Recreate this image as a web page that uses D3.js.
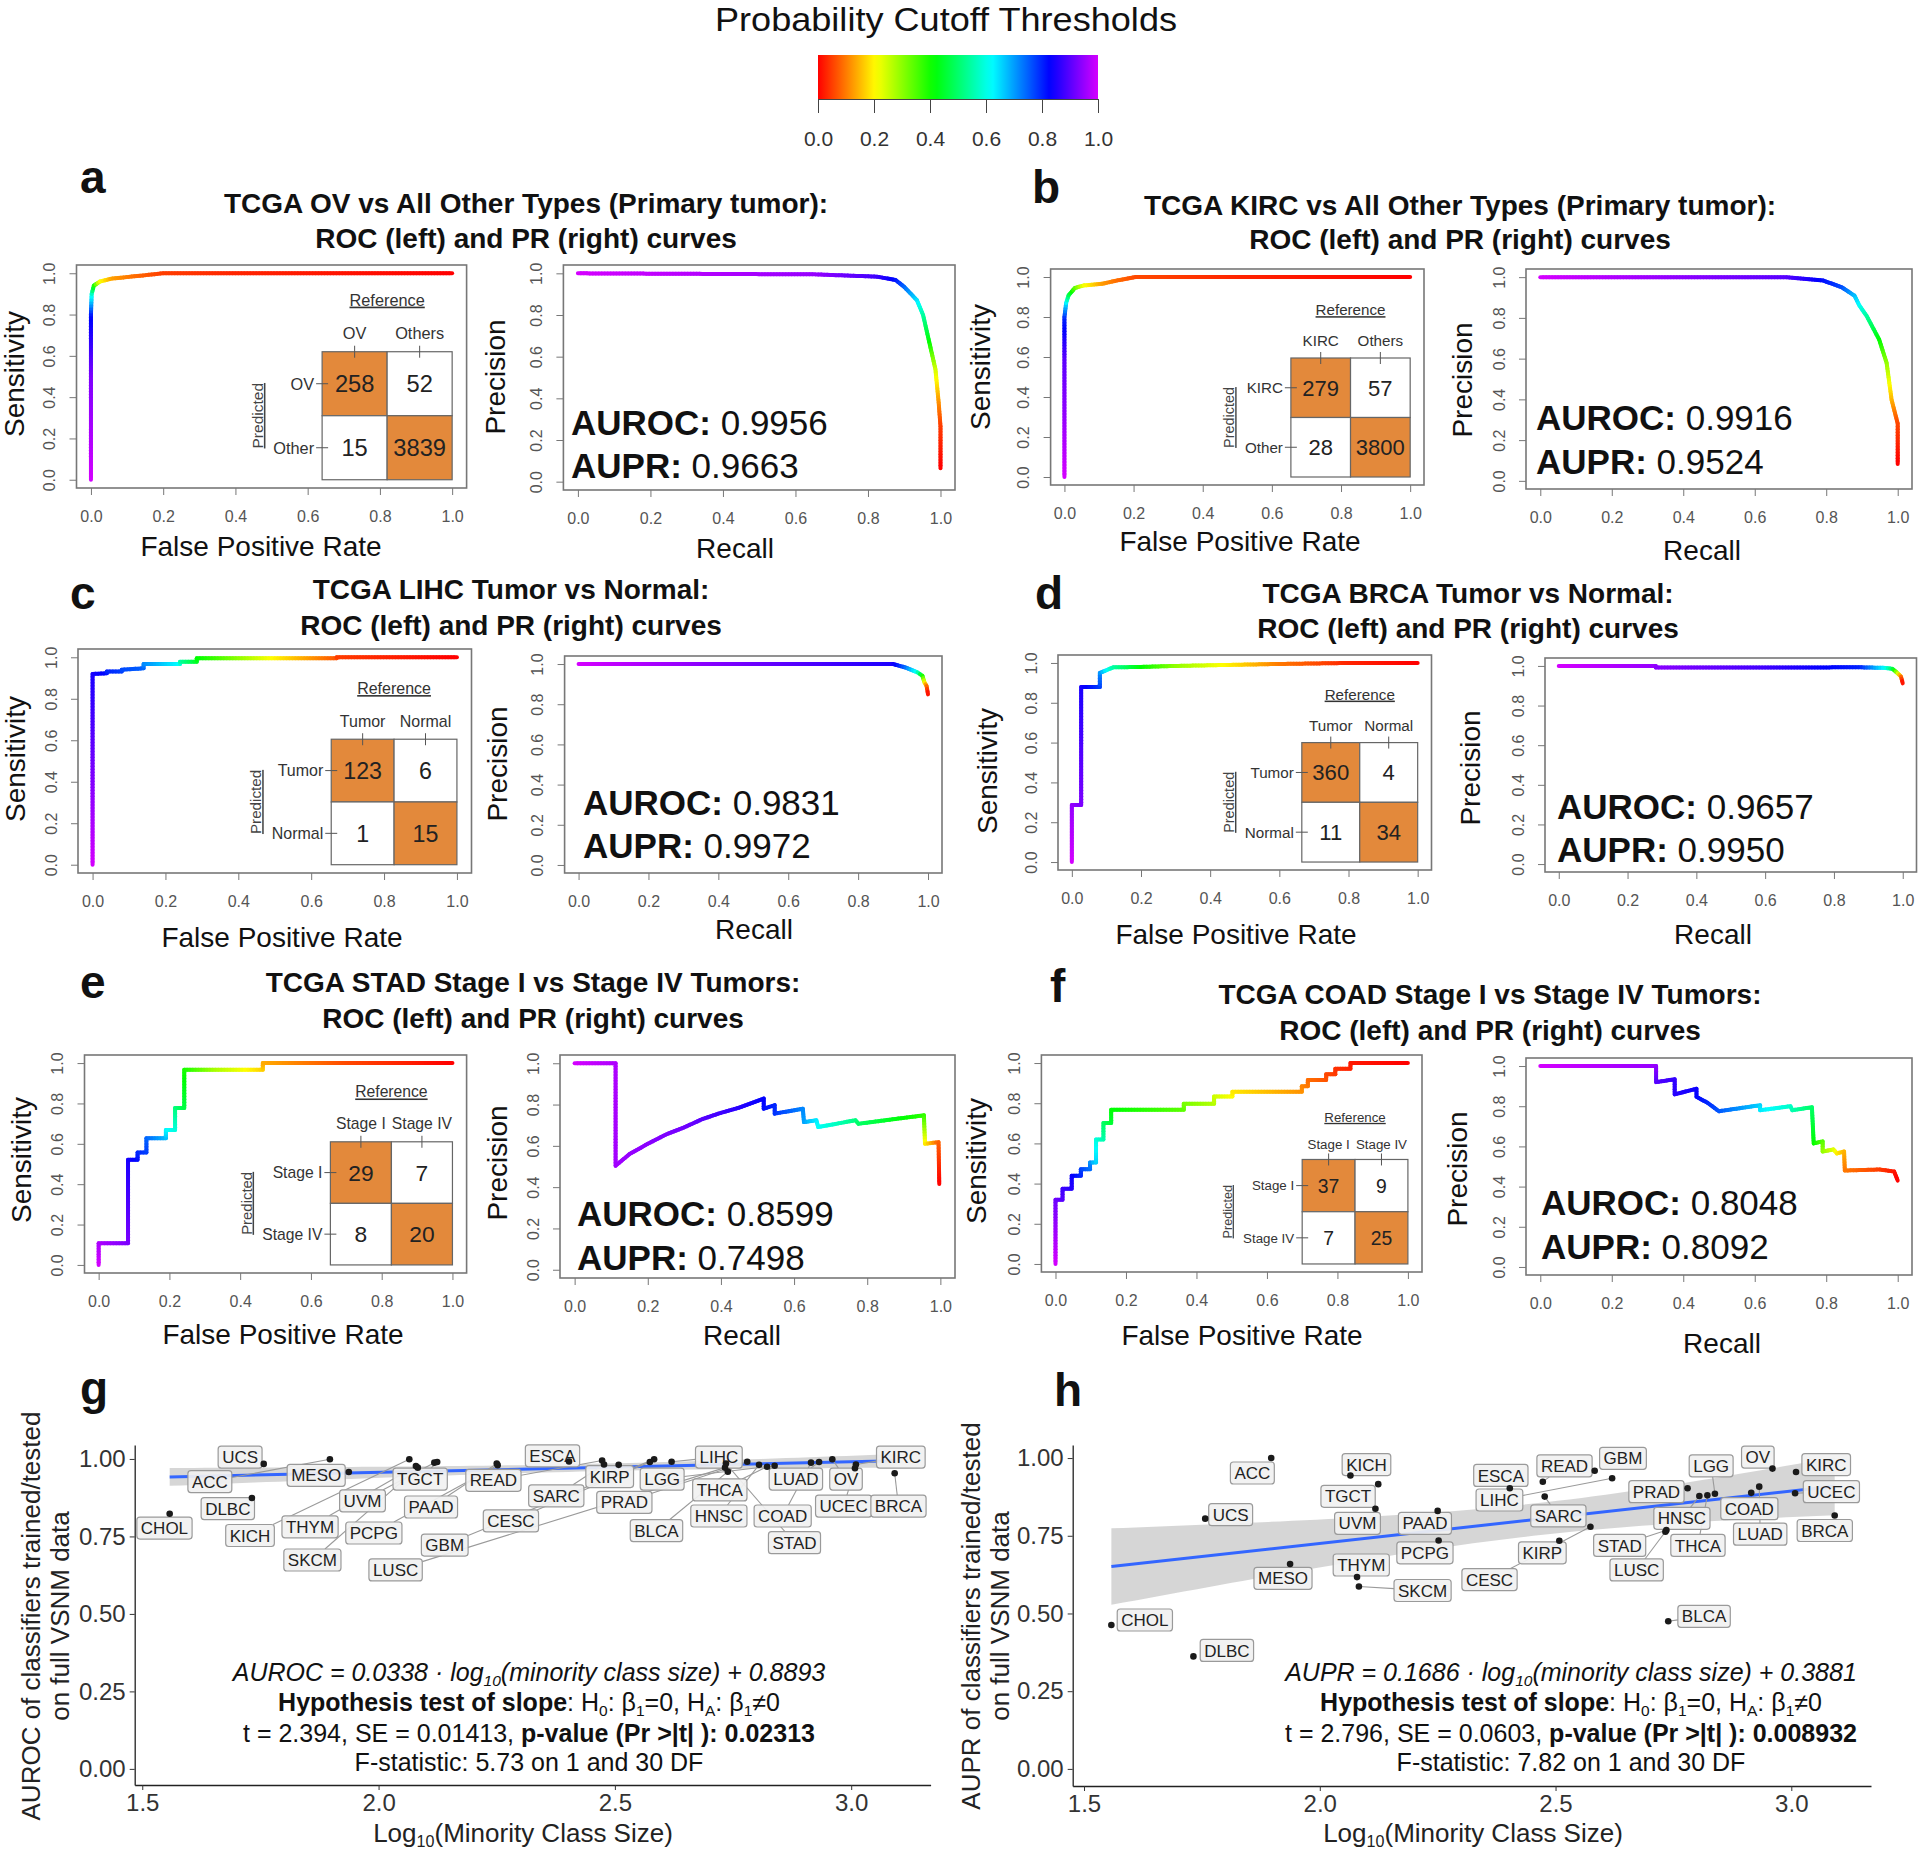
<!DOCTYPE html>
<html><head><meta charset="utf-8">
<script src="https://cdn.jsdelivr.net/npm/d3@7/dist/d3.min.js"></script>
<style>body{margin:0;background:#fff}svg{display:block}</style>
</head><body>
<svg id="c" width="1920" height="1852"></svg>
<script>
// ================= DATA =================
const colorbarTicks = [0, 0.2, 0.4, 0.6, 0.8, 1.0];
const unitTicks = [0, 0.2, 0.4, 0.6, 0.8, 1.0];

const panelLetters = ["a","b","c","d","e","f","g","h"];
const titleLine1 = [
  "TCGA OV vs All Other Types (Primary tumor):",
  "TCGA KIRC vs All Other Types (Primary tumor):",
  "TCGA LIHC Tumor vs Normal:",
  "TCGA BRCA Tumor vs Normal:",
  "TCGA STAD Stage I vs Stage IV Tumors:",
  "TCGA COAD Stage I vs Stage IV Tumors:"
];
const titleLine2 = "ROC (left) and PR (right) curves";
const aurocVals = ["0.9956","0.9916","0.9831","0.9657","0.8599","0.8048"];
const auprVals  = ["0.9663","0.9524","0.9972","0.9950","0.7498","0.8092"];

// confusion matrices
const cmCols = [["OV","Others"],["KIRC","Others"],["Tumor","Normal"],["Tumor","Normal"],["Stage I","Stage IV"],["Stage I","Stage IV"]];
const cmRows = [["OV","Other"],["KIRC","Other"],["Tumor","Normal"],["Tumor","Normal"],["Stage I","Stage IV"],["Stage I","Stage IV"]];
const cmCounts = [[[258,52],[15,3839]],[[279,57],[28,3800]],[[123,6],[1,15]],[[360,4],[11,34]],[[29,7],[8,20]],[[37,9],[7,25]]];

// curves: [x, y, probability threshold]
const rocA = [[0,0,1],[0,0.5,0.93],[0,0.8,0.82],[0.002,0.9,0.6],[0.008,0.94,0.42],[0.025,0.96,0.22],[0.06,0.975,0.13],[0.12,0.985,0.09],[0.2,1.0,0.05],[0.4,1.0,0.03],[1,1,0]];
const prA  = [[0,1,1],[0.655,0.995,0.95],[0.825,0.984,0.88],[0.876,0.968,0.82],[0.90,0.935,0.75],[0.935,0.871,0.65],[0.952,0.80,0.55],[0.969,0.67,0.42],[0.986,0.54,0.25],[0.995,0.379,0.12],[1.0,0.266,0.05],[1.0,0.064,0.0]];
const rocB = [[0,0,1],[0,0.6,0.9],[0,0.8,0.8],[0.005,0.87,0.65],[0.012,0.908,0.5],[0.03,0.945,0.35],[0.056,0.958,0.22],[0.109,0.966,0.13],[0.153,0.983,0.09],[0.206,1.0,0.06],[0.5,1.0,0.03],[1,1,0]];
const prB  = [[0,1,1],[0.689,1.0,0.9],[0.792,0.983,0.82],[0.844,0.95,0.77],[0.879,0.909,0.68],[0.893,0.86,0.62],[0.913,0.81,0.55],[0.948,0.694,0.42],[0.969,0.579,0.3],[0.983,0.397,0.15],[1.0,0.281,0.06],[1.0,0.083,0]];
const rocC = [[0,0,1],[0,0.92,0.85],[0.039,0.923,0.82],[0.039,0.932,0.8],[0.08,0.932,0.78],[0.08,0.94,0.77],[0.14,0.947,0.75],[0.14,0.968,0.72],[0.24,0.968,0.62],[0.24,0.979,0.55],[0.286,0.979,0.45],[0.286,0.995,0.42],[0.5,0.995,0.2],[0.67,0.995,0.07],[0.67,1.0,0.05],[1,1,0]];
const prC  = [[0,1,1],[0.9,1,0.85],[0.935,0.983,0.75],[0.97,0.958,0.6],[0.984,0.941,0.42],[0.99,0.908,0.22],[0.996,0.89,0.1],[1,0.849,0]];
const rocD = [[0,0,1],[0,0.286,0.95],[0.027,0.286,0.93],[0.027,0.879,0.85],[0.081,0.879,0.78],[0.081,0.95,0.72],[0.103,0.966,0.62],[0.12,0.978,0.55],[0.2,0.98,0.42],[0.3,0.985,0.3],[0.45,0.99,0.2],[0.6,0.995,0.1],[0.8,1.0,0.03],[1,1,0]];
const prD  = [[0,1,1],[0.282,1,0.95],[0.282,0.992,0.94],[0.6,0.992,0.88],[0.88,0.993,0.8],[0.95,0.99,0.62],[0.97,0.985,0.5],[0.98,0.971,0.35],[0.99,0.955,0.2],[0.995,0.946,0.1],[1,0.912,0]];
const rocE = [[0,0,1],[0,0.107,0.97],[0.083,0.107,0.93],[0.083,0.521,0.85],[0.11,0.521,0.82],[0.11,0.557,0.8],[0.135,0.557,0.78],[0.135,0.628,0.75],[0.19,0.628,0.68],[0.19,0.669,0.63],[0.216,0.669,0.6],[0.216,0.777,0.52],[0.242,0.777,0.47],[0.242,0.967,0.4],[0.33,0.967,0.28],[0.464,0.967,0.17],[0.464,1.0,0.14],[0.7,1.0,0.06],[1,1,0]];
const prE  = [[0,1,1],[0.112,1,0.97],[0.112,0.504,0.96],[0.15,0.56,0.95],[0.2,0.61,0.94],[0.25,0.655,0.93],[0.3,0.69,0.92],[0.35,0.73,0.9],[0.4,0.76,0.88],[0.45,0.785,0.86],[0.517,0.829,0.83],[0.517,0.78,0.82],[0.547,0.797,0.8],[0.547,0.756,0.79],[0.624,0.78,0.72],[0.627,0.715,0.7],[0.661,0.724,0.64],[0.666,0.691,0.62],[0.768,0.724,0.52],[0.776,0.707,0.5],[0.955,0.748,0.38],[0.958,0.61,0.2],[0.995,0.618,0.08],[0.997,0.415,0]];
const rocF = [[0,0,1],[0,0.32,0.92],[0.02,0.32,0.9],[0.02,0.374,0.88],[0.046,0.374,0.86],[0.046,0.439,0.84],[0.072,0.439,0.8],[0.072,0.472,0.78],[0.098,0.472,0.74],[0.098,0.505,0.72],[0.115,0.505,0.66],[0.115,0.62,0.6],[0.136,0.62,0.56],[0.136,0.702,0.5],[0.158,0.702,0.46],[0.158,0.767,0.42],[0.364,0.767,0.34],[0.364,0.797,0.32],[0.45,0.797,0.27],[0.45,0.833,0.25],[0.502,0.833,0.21],[0.502,0.857,0.19],[0.699,0.857,0.12],[0.699,0.885,0.11],[0.716,0.885,0.1],[0.716,0.915,0.09],[0.768,0.915,0.07],[0.768,0.944,0.06],[0.794,0.944,0.05],[0.794,0.972,0.04],[0.837,0.972,0.03],[0.837,1.0,0.02],[1,1,0]];
const prF  = [[0,1,1],[0.324,1,0.95],[0.324,0.92,0.9],[0.376,0.934,0.87],[0.376,0.859,0.86],[0.437,0.887,0.84],[0.437,0.847,0.83],[0.468,0.817,0.8],[0.5,0.775,0.76],[0.615,0.805,0.66],[0.615,0.78,0.64],[0.7,0.8,0.58],[0.705,0.78,0.56],[0.76,0.795,0.5],[0.765,0.615,0.42],[0.79,0.625,0.35],[0.79,0.575,0.3],[0.82,0.585,0.24],[0.83,0.565,0.2],[0.85,0.575,0.15],[0.852,0.48,0.1],[0.95,0.485,0.05],[0.99,0.475,0.02],[1.0,0.43,0]];
const rocCurves = [rocA, rocB, rocC, rocD, rocE, rocF];
const prCurves  = [prA, prB, prC, prD, prE, prF];

// scatter panels g/h
const cancerTypes = ["CHOL","DLBC","UCS","ACC","MESO","KICH","THYM","SKCM","UVM","TGCT","PAAD","PCPG","ESCA","READ","SARC","KIRP","CESC","GBM","LIHC","BLCA","LUSC","STAD","PRAD","HNSC","THCA","LGG","COAD","LUAD","OV","UCEC","KIRC","BRCA"];
const log10Size = [1.558,1.732,1.757,1.897,1.937,2.065,2.079,2.083,2.118,2.124,2.250,2.252,2.403,2.473,2.477,2.508,2.574,2.583,2.620,2.739,2.733,2.735,2.780,2.805,2.822,2.838,2.915,2.932,2.960,3.008,3.010,3.092];
const aurocByType = [0.823,0.874,0.984,0.999,0.958,0.999,0.977,0.972,0.988,0.990,0.985,0.980,0.992,0.995,0.982,0.981,0.990,0.999,0.991,0.959,0.972,0.985,0.991,0.981,0.975,0.978,0.988,0.990,0.999,0.970,0.982,0.954];
const auprByType  = [0.463,0.362,0.805,1.000,0.659,0.944,0.617,0.587,0.837,0.916,0.830,0.735,0.903,0.924,0.876,0.734,0.779,0.959,0.935,0.475,0.763,0.768,0.903,0.878,0.880,0.885,0.888,0.908,0.966,0.887,0.955,0.815];
// repelled label anchors (data units)
const labelXG = [1.547,1.681,1.707,1.643,1.868,1.728,1.855,1.860,1.966,2.088,2.111,1.990,2.368,2.243,2.376,2.489,2.280,2.140,2.720,2.588,2.036,2.880,2.520,2.720,2.722,2.600,2.855,2.883,2.989,2.984,3.105,3.100];
const labelYG = [0.777,0.840,1.006,0.927,0.947,0.753,0.781,0.674,0.865,0.935,0.845,0.761,1.010,0.931,0.881,0.943,0.800,0.722,1.006,0.769,0.642,0.730,0.860,0.816,0.900,0.935,0.816,0.935,0.935,0.848,1.006,0.848];
const labelXH = [1.629,1.803,1.811,1.857,1.922,2.099,2.088,2.218,2.080,2.060,2.223,2.223,2.384,2.519,2.506,2.472,2.360,2.643,2.381,2.815,2.672,2.636,2.714,2.768,2.802,2.830,2.911,2.934,2.929,3.085,3.074,3.071];
const labelYH = [0.479,0.381,0.818,0.952,0.613,0.979,0.656,0.574,0.790,0.877,0.790,0.695,0.944,0.975,0.814,0.695,0.609,0.999,0.865,0.491,0.640,0.719,0.892,0.806,0.719,0.975,0.837,0.755,1.003,0.892,0.979,0.767];
const scatterXTicks = [1.5, 2.0, 2.5, 3.0];
const scatterYTicks = [0, 0.25, 0.5, 0.75, 1.0];
// regression results shown in the panels
const fitG = {slope:0.0338, intercept:0.8893, se:0.01413};
const fitH = {slope:0.1686, intercept:0.3881, se:0.0603};

// ================= DRAWING =================
const FONT = '"Liberation Sans", Arial, Helvetica, sans-serif';
const svg = d3.select('#c').attr('font-family', FONT);
const ORANGE = '#e3893b';
const col = t => d3.hsl(Math.max(0, Math.min(1, t)) * 290, 1, 0.5).toString();

// ---- colorbar ----
(function(){
  svg.append('text').attr('x', 946).attr('y', 31).attr('text-anchor','middle')
    .attr('font-size', 33).attr('fill','#111').attr('textLength', 462).attr('lengthAdjust','spacingAndGlyphs')
    .text('Probability Cutoff Thresholds');
  const defs = svg.append('defs');
  const gr = defs.append('linearGradient').attr('id','cbar');
  d3.range(0, 41).forEach(i => gr.append('stop').attr('offset', (i/40*100)+'%').attr('stop-color', col(i/40)));
  const cx = d3.scaleLinear().domain([0,1]).range([818,1098]);
  svg.append('rect').attr('x', cx(0)).attr('y', 55).attr('width', cx(1)-cx(0)).attr('height', 44).attr('fill','url(#cbar)');
  const ax = svg.append('g').attr('transform','translate(0,99)')
    .call(d3.axisBottom(cx).tickValues(colorbarTicks).tickFormat(d3.format('.1f')).tickSize(14).tickSizeOuter(0).tickPadding(18));
  ax.attr('font-family', FONT).attr('font-size', 21);
  ax.select('.domain').attr('stroke','#444');
  ax.selectAll('line').attr('stroke','#444');
  ax.selectAll('text').attr('fill','#333');
})();

function gradCurve(g, pts, x, y, w) {
  for (let i = 0; i < pts.length - 1; i++) {
    const [a0, b0, t0] = pts[i], [a1, b1, t1] = pts[i+1];
    const X0 = x(a0), Y0 = y(b0), X1 = x(a1), Y1 = y(b1);
    const L = Math.hypot(X1-X0, Y1-Y0);
    const n = Math.max(1, Math.ceil(L / 3));
    for (let k = 0; k < n; k++) {
      const p = k/n, q = (k+1)/n;
      g.append('line')
        .attr('x1', X0+(X1-X0)*p).attr('y1', Y0+(Y1-Y0)*p)
        .attr('x2', X0+(X1-X0)*q).attr('y2', Y0+(Y1-Y0)*q)
        .attr('stroke', col(t0+(t1-t0)*(p+q)/2)).attr('stroke-width', w).attr('stroke-linecap','round');
    }
  }
}

function rPlot(box, data, xlabel, ylabel, xlabPos, ylabPos) {
  const [x0, x1, y0, y1] = box;
  const x = d3.scaleLinear().domain([-0.04, 1.04]).range([x0, x1]);
  const y = d3.scaleLinear().domain([-0.04, 1.04]).range([y1, y0]);
  const g = svg.append('g');
  const ax = g.append('g').attr('transform', `translate(0,${y1})`)
    .call(d3.axisBottom(x).tickValues(unitTicks).tickFormat(d3.format('.1f')).tickSize(7).tickSizeOuter(0).tickPadding(16));
  ax.attr('font-family', FONT).attr('font-size', 16);
  ax.select('.domain').remove();
  ax.selectAll('line').attr('stroke','#777');
  ax.selectAll('text').attr('fill','#555');
  const ay = g.append('g').attr('transform', `translate(${x0},0)`)
    .call(d3.axisLeft(y).tickValues(unitTicks).tickFormat(d3.format('.1f')).tickSize(7).tickSizeOuter(0));
  ay.attr('font-family', FONT).attr('font-size', 16);
  ay.select('.domain').remove();
  ay.selectAll('line').attr('stroke','#777');
  ay.selectAll('text').attr('fill','#555').attr('x', 0).attr('y', 0).attr('dy','0.35em')
    .attr('text-anchor','middle').attr('transform','translate(-27,0) rotate(-90)');
  g.append('rect').attr('x', x0).attr('y', y0).attr('width', x1-x0).attr('height', y1-y0)
    .attr('fill','none').attr('stroke','#777').attr('stroke-width', 1.6);
  gradCurve(g, data, x, y, 4);
  g.append('text').attr('x', xlabPos[0]).attr('y', xlabPos[1]).attr('dy','0.36em').attr('text-anchor','middle')
    .attr('font-size', 28).attr('fill','#111').text(xlabel);
  g.append('text').attr('transform', `translate(${ylabPos[0]},${ylabPos[1]}) rotate(-90)`).attr('dy','0.36em')
    .attr('text-anchor','middle').attr('font-size', 28).attr('fill','#111').text(ylabel);
  return {x, y, g};
}

function confMatrix(p, ext, cols, rows, vals) {
  const {x, y, g} = p;
  const L = x(ext[0]), R = x(ext[1]), T = y(ext[3]), B = y(ext[2]);
  const cw = (R-L)/2, ch = (B-T)/2;
  const lf = ch * 0.255, nf = ch * 0.37;
  const m = g.append('g');
  for (let i = 0; i < 2; i++) for (let j = 0; j < 2; j++) {
    m.append('rect').attr('x', L + j*cw).attr('y', T + i*ch).attr('width', cw).attr('height', ch)
      .attr('fill', i === j ? ORANGE : '#fff').attr('stroke','#666').attr('stroke-width', 1.2);
    m.append('text').attr('x', L + (j+0.5)*cw).attr('y', T + (i+0.5)*ch).attr('dy','0.36em')
      .attr('text-anchor','middle').attr('font-size', nf).attr('fill','#222').text(vals[i][j]);
  }
  cols.forEach((c, j) => {
    const cx = L + (j+0.5)*cw;
    m.append('line').attr('x1', cx).attr('x2', cx).attr('y1', T-6).attr('y2', T+6).attr('stroke','#555');
    m.append('text').attr('x', cx).attr('y', T - ch*0.2).attr('text-anchor','middle').attr('font-size', lf).attr('fill','#333').text(c);
  });
  m.append('text').attr('x', L + cw).attr('y', T - ch*0.72).attr('text-anchor','middle').attr('font-size', lf)
    .attr('fill','#333').attr('text-decoration','underline').text('Reference');
  let maxw = 0;
  rows.forEach((r, i) => {
    const cy = T + (i+0.5)*ch;
    m.append('line').attr('x1', L-6).attr('x2', L+6).attr('y1', cy).attr('y2', cy).attr('stroke','#555');
    const t = m.append('text').attr('x', L - 8).attr('y', cy).attr('dy','0.36em').attr('text-anchor','end')
      .attr('font-size', lf).attr('fill','#333').text(r);
    maxw = Math.max(maxw, t.node().getComputedTextLength());
  });
  m.append('text').attr('transform', `translate(${L - 8 - maxw - 16},${T + ch}) rotate(-90)`).attr('dy','0.36em')
    .attr('text-anchor','middle').attr('font-size', lf*0.95).attr('fill','#444')
    .attr('text-decoration','underline').text('Predicted');
}

// layout of the six ROC/PR panels (pixel positions)
const layouts = [
  {letter:[80,193], title:[526,213,248], roc:[76.5,466.6,265,488], pr:[563.4,955,265,490],
   rocX:[261,546], rocY:[14,374], prX:[735,548], prY:[495,377], cm:[0.64,1,0,0.62], score:[571,435,478]},
  {letter:[1032,203], title:[1460,215,249], roc:[1050.6,1424,269,485], pr:[1526,1912,269,489],
   rocX:[1240,541], rocY:[980,367], prX:[1702,550], prY:[1462,380], cm:[0.655,1,0,0.595], score:[1536,430,474]},
  {letter:[70,609], title:[511,599,635], roc:[78,471.5,649,873], pr:[564.6,942,656,873],
   rocX:[282,937], rocY:[15,759], prX:[754,929], prY:[497,764], cm:[0.655,1,0,0.605], score:[583,815,858]},
  {letter:[1035,609], title:[1468,603,638], roc:[1058,1431.5,655,870], pr:[1545,1916.5,658,872],
   rocX:[1236,934], rocY:[987,771], prX:[1713,934], prY:[1470,768], cm:[0.665,1,0,0.6], score:[1557,819,862]},
  {letter:[80,998], title:[533,992,1028], roc:[84.5,466.6,1055,1273], pr:[560,955,1055,1278],
   rocX:[283,1334], rocY:[21,1160], prX:[742,1335], prY:[497,1163], cm:[0.655,1,0,0.61], score:[577,1226,1270]},
  {letter:[1050,1002], title:[1490,1004,1040], roc:[1041.4,1422,1055,1272], pr:[1526,1912,1058,1275],
   rocX:[1242,1335], rocY:[976,1161], prX:[1722,1343], prY:[1457,1169], cm:[0.70,1,0,0.52], score:[1541,1215,1259]}
];

layouts.forEach((lay, k) => {
  svg.append('text').attr('x', lay.letter[0]).attr('y', lay.letter[1]).attr('font-size', 46).attr('font-weight','bold')
    .attr('fill','#111').text(panelLetters[k]);
  svg.append('text').attr('x', lay.title[0]).attr('y', lay.title[1]).attr('text-anchor','middle')
    .attr('font-size', 28).attr('font-weight','bold').attr('fill','#111').text(titleLine1[k]);
  svg.append('text').attr('x', lay.title[0]).attr('y', lay.title[2]).attr('text-anchor','middle')
    .attr('font-size', 28).attr('font-weight','bold').attr('fill','#111').text(titleLine2);
  const roc = rPlot(lay.roc, rocCurves[k], 'False Positive Rate', 'Sensitivity', lay.rocX, lay.rocY);
  confMatrix(roc, lay.cm, cmCols[k], cmRows[k], cmCounts[k]);
  rPlot(lay.pr, prCurves[k], 'Recall', 'Precision', lay.prX, lay.prY);
  const s1 = svg.append('text').attr('x', lay.score[0]).attr('y', lay.score[1]).attr('font-size', 35).attr('fill','#111');
  s1.append('tspan').attr('font-weight','bold').text('AUROC:');
  s1.append('tspan').text(' ' + aurocVals[k]);
  const s2 = svg.append('text').attr('x', lay.score[0]).attr('y', lay.score[2]).attr('font-size', 35).attr('fill','#111');
  s2.append('tspan').attr('font-weight','bold').text('AUPR:');
  s2.append('tspan').text(' ' + auprVals[k]);
});

// ---- rich text helper ----
function richText(g, x, y, parts, fs, anchor) {
  const t = g.append('text').attr('x', x).attr('y', y).attr('text-anchor', anchor || 'middle')
    .attr('font-size', fs).attr('fill', '#111');
  let shift = 0;
  parts.forEach(p => {
    const target = p.sub ? fs * 0.2 : 0;
    const s = t.append('tspan').attr('dy', target - shift).text(p.t);
    shift = target;
    if (p.sub) s.attr('font-size', fs * 0.62);
    if (p.b) s.attr('font-weight', 'bold');
    if (p.i) s.attr('font-style', 'italic');
  });
  return t;
}

function scatterPanel(cfg) {
  const x = d3.scaleLinear().domain(cfg.xd).range([cfg.left, cfg.right]);
  const y = d3.scaleLinear().domain(cfg.yd).range([cfg.bottom, cfg.top]);
  const g = svg.append('g');
  const yv = cfg.yvals;
  // regression band from the reported fit
  const n = log10Size.length, xbar = d3.mean(log10Size);
  const sxx = d3.sum(log10Size, v => (v - xbar) ** 2);
  const s = cfg.fit.se * Math.sqrt(sxx), tcrit = 2.042;
  const xmin = d3.min(log10Size), xmax = d3.max(log10Size);
  const xs = d3.range(0, 61).map(i => xmin + (xmax - xmin) * i / 60);
  const fitv = v => cfg.fit.intercept + cfg.fit.slope * v;
  const sef = v => s * Math.sqrt(1/n + (v - xbar) ** 2 / sxx);
  g.append('path').datum(xs)
    .attr('d', d3.area().x(v => x(v)).y0(v => y(fitv(v) - tcrit*sef(v))).y1(v => y(fitv(v) + tcrit*sef(v))))
    .attr('fill', '#999').attr('fill-opacity', 0.4);
  g.append('line').attr('x1', x(xmin)).attr('x2', x(xmax)).attr('y1', y(fitv(xmin))).attr('y2', y(fitv(xmax)))
    .attr('stroke', '#3366FF').attr('stroke-width', 3);
  // axes
  const ax = g.append('g').attr('transform', `translate(0,${cfg.bottom})`)
    .call(d3.axisBottom(x).tickValues(scatterXTicks).tickFormat(d3.format('.1f')).tickSize(5).tickSizeOuter(0).tickPadding(4));
  ax.attr('font-family', FONT).attr('font-size', 24);
  ax.select('.domain').attr('stroke', '#222').attr('stroke-width', 1.3);
  ax.selectAll('line').attr('stroke', '#333');
  ax.selectAll('text').attr('fill', '#333');
  const ay = g.append('g').attr('transform', `translate(${cfg.left},0)`)
    .call(d3.axisLeft(y).tickValues(scatterYTicks).tickFormat(d3.format('.2f')).tickSize(5).tickSizeOuter(0).tickPadding(4));
  ay.attr('font-family', FONT).attr('font-size', 24);
  ay.select('.domain').attr('stroke', '#222').attr('stroke-width', 1.3);
  ay.selectAll('line').attr('stroke', '#333');
  ay.selectAll('text').attr('fill', '#333');
  // labels boxes (measure)
  const lg = g.append('g');
  const boxes = cancerTypes.map((name, i) => {
    const t = lg.append('text').attr('font-size', 17).text(name);
    const w = t.node().getComputedTextLength() + 8, h = 22;
    t.remove();
    const cx = x(cfg.lx[i]), cy = y(cfg.ly[i]);
    return {name, cx, cy, w, h};
  });
  // segments
  boxes.forEach((b, i) => {
    const px = x(log10Size[i]), py = y(yv[i]);
    const dx = px - b.cx, dy = py - b.cy;
    const sx = Math.abs(dx) > 0 ? (b.w/2) / Math.abs(dx) : Infinity;
    const sy = Math.abs(dy) > 0 ? (b.h/2) / Math.abs(dy) : Infinity;
    const sc = Math.min(sx, sy);
    if (sc >= 1) return;
    const ex = b.cx + dx*sc, ey = b.cy + dy*sc;
    if (Math.hypot(px-ex, py-ey) < 7) return;
    lg.append('line').attr('x1', px).attr('y1', py).attr('x2', ex).attr('y2', ey)
      .attr('stroke', '#9a9a9a').attr('stroke-width', 1.1);
  });
  // points
  g.append('g').selectAll('circle').data(cancerTypes).join('circle')
    .attr('cx', (d, i) => x(log10Size[i])).attr('cy', (d, i) => y(yv[i])).attr('r', 3.3).attr('fill', '#1a1a1a');
  // labels
  boxes.forEach(b => {
    lg.append('rect').attr('x', b.cx - b.w/2).attr('y', b.cy - b.h/2).attr('width', b.w).attr('height', b.h)
      .attr('rx', 3).attr('fill', '#f1f1f1').attr('fill-opacity', 0.92).attr('stroke', '#9a9a9a').attr('stroke-width', 1.2);
    lg.append('text').attr('x', b.cx).attr('y', b.cy).attr('dy', '0.36em').attr('text-anchor', 'middle')
      .attr('font-size', 17).attr('fill', '#222').text(b.name);
  });
  // axis titles
  g.append('text').attr('transform', `translate(${cfg.ytitleX[0]},${cfg.ytitleY}) rotate(-90)`)
    .attr('text-anchor', 'middle').attr('font-size', 26).attr('fill', '#222').text(cfg.ytitle1);
  g.append('text').attr('transform', `translate(${cfg.ytitleX[1]},${cfg.ytitleY}) rotate(-90)`)
    .attr('text-anchor', 'middle').attr('font-size', 26).attr('fill', '#222').text('on full VSNM data');
  richText(g, cfg.xtitle[0], cfg.xtitle[1], [{t:'Log'},{t:'10',sub:true},{t:'(Minority Class Size)'}], 26).attr('fill','#222');
  // annotation
  const A = cfg.ann;
  richText(g, A.x, A.y[0], [{t:cfg.metric + ' = ' + cfg.fit.slope.toFixed(4) + ' · log', i:true},{t:'10',sub:true,i:true},{t:'(minority class size) + ' + cfg.fit.intercept.toFixed(4), i:true}], 25);
  richText(g, A.x, A.y[1], [{t:'Hypothesis test of slope', b:true},{t:': H'},{t:'0',sub:true},{t:': β'},{t:'1',sub:true},{t:'=0, H'},{t:'A',sub:true},{t:': β'},{t:'1',sub:true},{t:'≠0'}], 25);
  richText(g, A.x, A.y[2], [{t:cfg.tline},{t:cfg.pline, b:true}], 25);
  richText(g, A.x, A.y[3], [{t:cfg.fline}], 25);
}

svg.append('text').attr('x', 80).attr('y', 1404).attr('font-size', 46).attr('font-weight','bold').attr('fill','#111').text(panelLetters[6]);
svg.append('text').attr('x', 1054).attr('y', 1406).attr('font-size', 46).attr('font-weight','bold').attr('fill','#111').text(panelLetters[7]);

scatterPanel({
  xd:[1.484, 3.168], yd:[-0.052, 1.045], left:134.7, right:930.6, top:1445, bottom:1785,
  yvals: aurocByType, lx: labelXG, ly: labelYG, fit: fitG, metric:'AUROC',
  ytitle1:'AUROC of classifiers trained/tested', ytitleX:[40,69], ytitleY:1616, xtitle:[523,1842],
  ann:{x:529, y:[1681,1711,1742,1771]},
  tline:'t = 2.394, SE = 0.01413, ', pline:'p-value (Pr >|t| ): 0.02313', fline:'F-statistic: 5.73 on 1 and 30 DF'
});
scatterPanel({
  xd:[1.476, 3.169], yd:[-0.055, 1.042], left:1072.7, right:1871, top:1445, bottom:1786,
  yvals: auprByType, lx: labelXH, ly: labelYH, fit: fitH, metric:'AUPR',
  ytitle1:'AUPR of classifiers trained/tested', ytitleX:[980,1009], ytitleY:1616, xtitle:[1473,1842],
  ann:{x:1571, y:[1681,1711,1742,1771]},
  tline:'t = 2.796, SE = 0.0603, ', pline:'p-value (Pr >|t| ): 0.008932', fline:'F-statistic:  7.82 on 1 and 30 DF'
});
</script>
</body></html>
